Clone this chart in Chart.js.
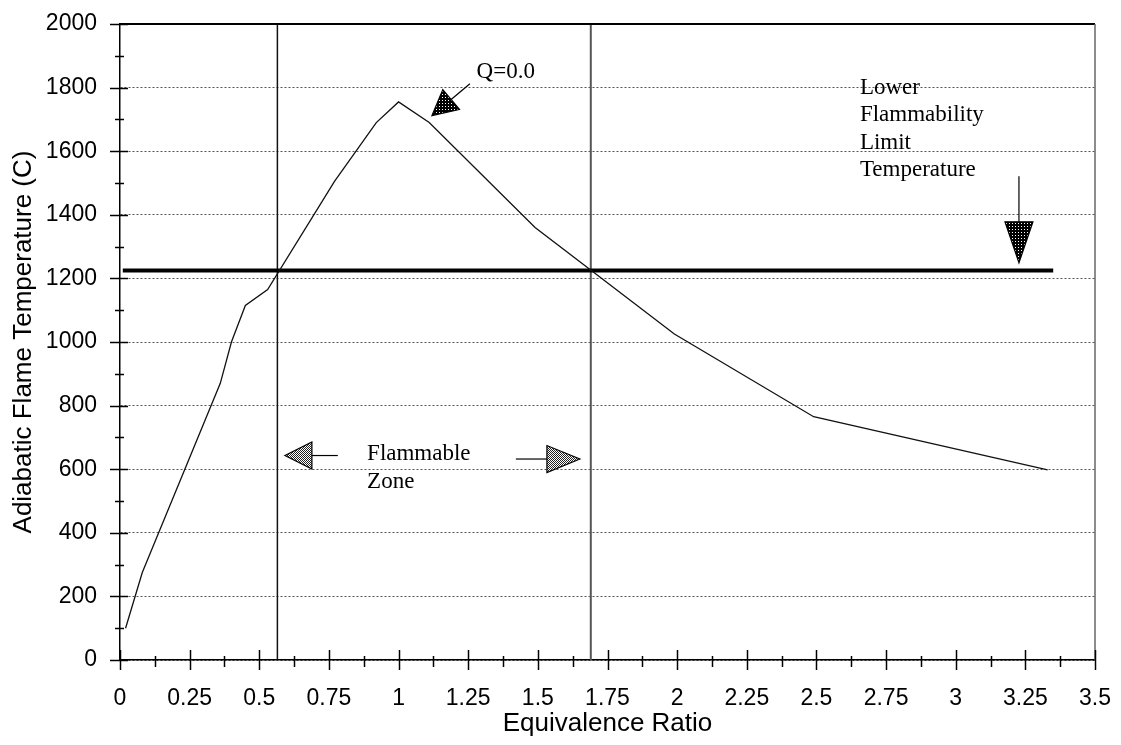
<!DOCTYPE html>
<html lang="en">
<head>
<meta charset="UTF-8">
<title>Adiabatic Flame Temperature vs Equivalence Ratio</title>
<script src="https://cdn.jsdelivr.net/npm/chart.js@4.4.0/dist/chart.umd.min.js"></script>
<style>
    body { margin: 0; background: #fff; }
    .wrap { width: 1121px; height: 745px; position: relative; }
</style>
</head>
<body>
<div class="wrap"><canvas id="flame-chart"></canvas></div>
<script>
    // Flame temperature curve
    const phi  = [0.02, 0.08, 0.36, 0.40, 0.45, 0.53, 0.77, 0.92, 1.00, 1.11, 1.49, 1.99, 2.49, 3.33];
    const temp = [100, 275, 870, 1000, 1115, 1165, 1505, 1690, 1755, 1690, 1360, 1025, 765, 598];

    // Lower flammability limit temperature
    const limitPhi  = [0.01, 3.35];
    const limitTemp = [1225, 1225];

    // Flammable zone bounds
    const zonePhi  = [0.565, 1.69];
    const zoneTemp = [0, 2000];

    const xTickLabels = ['0', '0.25', '0.5', '0.75', '1', '1.25', '1.5', '1.75', '2', '2.25', '2.5', '2.75', '3', '3.25', '3.5'];
    const yTickLabels = ['0', '200', '400', '600', '800', '1000', '1200', '1400', '1600', '1800', '2000'];

    // Text notes, placed in data units
    const notes = [
        { text: 'Q=0.0', x: 1.28, y: 1848 },
        { text: 'Lower', x: 2.656, y: 1800 },
        { text: 'Flammability', x: 2.656, y: 1713 },
        { text: 'Limit', x: 2.656, y: 1627 },
        { text: 'Temperature', x: 2.656, y: 1540 },
        { text: 'Flammable', x: 0.887, y: 647 },
        { text: 'Zone', x: 0.887, y: 561 }
    ];

    // Arrows: tail -> tip in data units, head size in px
    const arrows = [
        { from: [1.256, 1812], to: [1.12, 1712], len: 25, w: 26, dark: true },
        { from: [3.227, 1521], to: [3.227, 1249], len: 41, w: 28, dark: true },
        { from: [0.782, 643], to: [0.592, 643], len: 27, w: 27, dark: false },
        { from: [1.421, 632], to: [1.651, 632], len: 33, w: 27, dark: false }
    ];

    const toPoints = (xs, ys) => xs.map((v, i) => ({ x: v, y: ys[i] }));

    function makePattern(dark) {
        const c = document.createElement('canvas');
        const p = c.getContext('2d');
        if (dark) {
            c.width = 3; c.height = 3;
            p.fillStyle = '#000'; p.fillRect(0, 0, 3, 3);
            p.fillStyle = '#fff'; p.fillRect(1, 1, 1, 1);
        } else {
            c.width = 2; c.height = 2;
            p.fillStyle = '#fff'; p.fillRect(0, 0, 2, 2);
            p.fillStyle = '#222'; p.fillRect(0, 0, 1, 1); p.fillRect(1, 1, 1, 1);
        }
        return p.createPattern(c, 'repeat');
    }

    function drawArrow(ctx, x1, y1, x2, y2, len, w, fill) {
        const ang = Math.atan2(y2 - y1, x2 - x1);
        const bx = x2 - Math.cos(ang) * len, by = y2 - Math.sin(ang) * len;
        ctx.beginPath();
        ctx.moveTo(x1, y1);
        ctx.lineTo(bx, by);
        ctx.stroke();
        const nx = -Math.sin(ang) * w / 2, ny = Math.cos(ang) * w / 2;
        ctx.beginPath();
        ctx.moveTo(x2, y2);
        ctx.lineTo(bx + nx, by + ny);
        ctx.lineTo(bx - nx, by - ny);
        ctx.closePath();
        ctx.fillStyle = fill;
        ctx.fill();
        ctx.stroke();
    }

    // Frame, crossing tick marks, notes and arrows
    const decorations = {
        id: 'decorations',
        afterDraw(chart) {
            const { ctx, chartArea: a, scales: { x, y } } = chart;
            ctx.save();
            ctx.strokeStyle = '#000';

            // top and right frame
            ctx.lineWidth = 2;
            ctx.beginPath();
            ctx.moveTo(a.left, a.top); ctx.lineTo(a.right, a.top);
            ctx.stroke();
            ctx.strokeStyle = '#666';
            ctx.lineWidth = 1.5;
            ctx.beginPath();
            ctx.moveTo(a.right, a.top); ctx.lineTo(a.right, a.bottom);
            ctx.stroke();

            // y ticks every 100, majors every 200
            ctx.strokeStyle = '#000';
            ctx.lineWidth = 1.5;
            for (let v = 0; v <= 2000; v += 100) {
                const py = Math.round(y.getPixelForValue(v)) + 0.5;
                const major = v % 200 === 0;
                ctx.beginPath();
                ctx.moveTo(a.left - (major ? 10 : 5), py);
                ctx.lineTo(a.left + (major ? 8 : 4), py);
                ctx.stroke();
            }
            // x ticks every 0.125, majors every 0.25
            for (let i = 0; i <= 28; i++) {
                const px = Math.round(x.getPixelForValue(i * 0.125)) + 0.5;
                const major = i % 2 === 0;
                ctx.beginPath();
                ctx.moveTo(px, a.bottom - (major ? 10 : 4));
                ctx.lineTo(px, a.bottom + (major ? 10 : 7));
                ctx.stroke();
            }

            // text notes
            ctx.fillStyle = '#000';
            ctx.font = '23px "Liberation Serif", "Times New Roman", serif';
            ctx.textBaseline = 'middle';
            ctx.textAlign = 'left';
            notes.forEach(n => {
                ctx.fillText(n.text, x.getPixelForValue(n.x), y.getPixelForValue(n.y));
            });

            // arrows
            const darkFill = makePattern(true);
            const lightFill = makePattern(false);
            ctx.lineWidth = 1.2;
            ctx.strokeStyle = '#000';
            arrows.forEach(ar => {
                drawArrow(ctx,
                    x.getPixelForValue(ar.from[0]), y.getPixelForValue(ar.from[1]),
                    x.getPixelForValue(ar.to[0]), y.getPixelForValue(ar.to[1]),
                    ar.len, ar.w, ar.dark ? darkFill : lightFill);
            });
            ctx.restore();
        }
    };

    const tickFont = { family: '"Liberation Sans", Arial, sans-serif', size: 23 };
    const titleFont = { family: '"Liberation Sans", Arial, sans-serif', size: 26 };

    new Chart(document.getElementById('flame-chart'), {
        type: 'line',
        data: {
            datasets: [
                {
                    data: toPoints(phi, temp),
                    borderColor: '#111',
                    borderWidth: 1.3,
                    pointRadius: 0,
                    tension: 0
                },
                {
                    data: toPoints(limitPhi, limitTemp),
                    borderColor: '#000',
                    borderWidth: 4,
                    pointRadius: 0
                },
                {
                    data: toPoints([zonePhi[0], zonePhi[0]], zoneTemp),
                    borderColor: '#111',
                    borderWidth: 1.5,
                    pointRadius: 0
                },
                {
                    data: toPoints([zonePhi[1], zonePhi[1]], zoneTemp),
                    borderColor: '#555',
                    borderWidth: 2,
                    pointRadius: 0
                }
            ]
        },
        options: {
            responsive: true,
            maintainAspectRatio: false,
            animation: false,
            layout: { padding: { top: 24, right: 26, left: 0, bottom: 0 } },
            plugins: {
                legend: { display: false },
                tooltip: { enabled: false }
            },
            scales: {
                x: {
                    type: 'linear',
                    min: 0,
                    max: 3.5,
                    afterFit: s => { s.height = 85; },
                    ticks: {
                        stepSize: 0.25,
                        color: '#000',
                        font: tickFont,
                        padding: 0,
                        maxRotation: 0,
                        autoSkip: false,
                        callback: (v, i) => xTickLabels[i]
                    },
                    // invisible tick marks only push the labels down
                    grid: {
                        display: true,
                        drawOnChartArea: false,
                        drawTicks: true,
                        tickLength: 25,
                        tickColor: 'rgba(0,0,0,0)'
                    },
                    border: { display: true, color: '#000', width: 1.5 },
                    title: {
                        display: true,
                        text: 'Equivalence Ratio',
                        color: '#000',
                        font: titleFont,
                        padding: { top: 0, bottom: 6 }
                    }
                },
                y: {
                    min: 0,
                    max: 2000,
                    afterFit: s => { s.width = 120; },
                    ticks: {
                        stepSize: 200,
                        color: '#000',
                        font: tickFont,
                        padding: 0,
                        callback: (v, i) => yTickLabels[i]
                    },
                    grid: {
                        color: '#555',
                        lineWidth: 1,
                        drawTicks: true,
                        tickLength: 23,
                        tickColor: 'rgba(0,0,0,0)'
                    },
                    border: { display: true, color: '#000', width: 1.5, dash: [2, 2] },
                    title: {
                        display: true,
                        text: 'Adiabatic Flame Temperature (C)',
                        color: '#000',
                        font: titleFont,
                        padding: { top: 8, bottom: 0 }
                    }
                }
            }
        },
        plugins: [decorations]
    });
</script>
</body>
</html>
